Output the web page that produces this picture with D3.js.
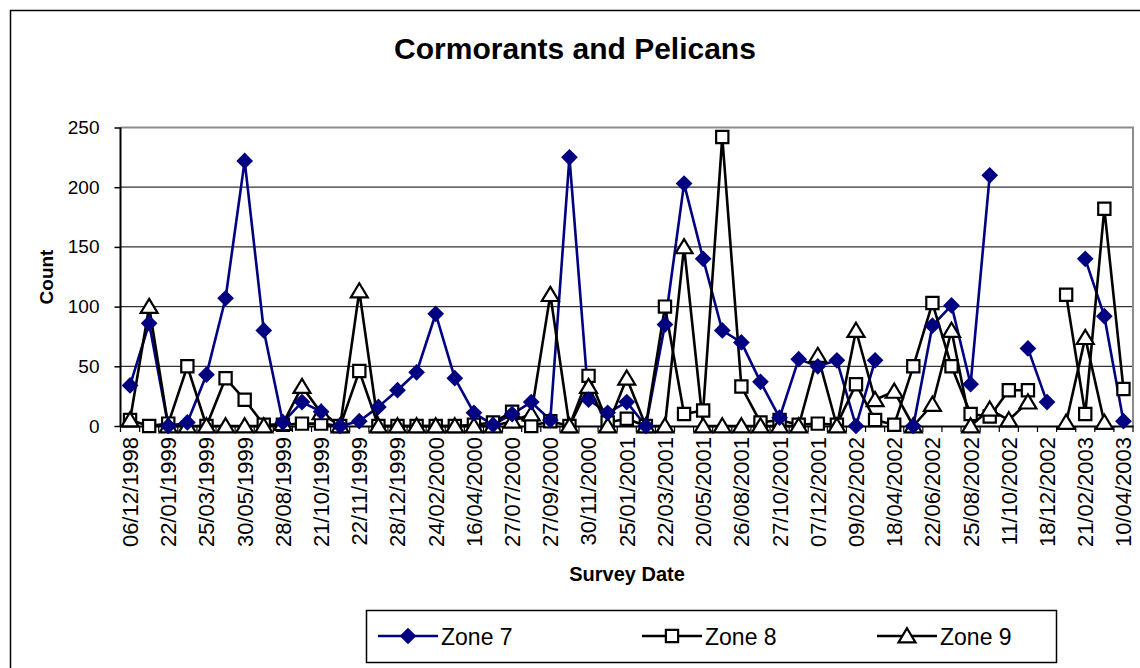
<!DOCTYPE html>
<html>
<head>
<meta charset="utf-8">
<script src="https://cdn.jsdelivr.net/npm/d3@7"></script>
<style>
html,body{margin:0;padding:0;background:#fff;}
svg text{font-family:"Liberation Sans",Arial,sans-serif;}
</style>
</head>
<body>
<svg id="chart" width="1140" height="668"></svg>
<script>
// Survey dates: only every other date is labelled in the original chart
const tickLabels = ["06/12/1998","22/01/1999","25/03/1999","30/05/1999","28/08/1999","21/10/1999","22/11/1999","28/12/1999","24/02/2000","16/04/2000","27/07/2000","27/09/2000","30/11/2000","25/01/2001","22/03/2001","20/05/2001","26/08/2001","27/10/2001","07/12/2001","09/02/2002","18/04/2002","22/06/2002","25/08/2002","11/10/2002","18/12/2002","21/02/2003","10/04/2003"];
const categories = d3.range(53);

const zone7 = [34,86,0,3,43,107,222,80,3,20,12,0,4,16,30,45,94,40,11,1,10,20,5,225,22,11,20,0,85,203,140,80,70,37,7,56,50,55,0,55,null,0,84,101,35,210,null,65,20,null,140,92,4];
const zone8 = [5,0,2,50,0,40,22,1,1,2,2,0,46,0,0,0,0,0,1,3,12,0,4,0,42,3,6,0,100,10,13,242,33,3,5,1,2,1,35,5,1,50,103,50,10,8,30,30,null,110,10,182,31];
const zone9 = [5,100,0,0,0,0,0,0,2,33,11,0,113,0,0,0,0,0,0,0,4,10,110,0,33,0,40,0,0,150,0,0,0,0,0,0,59,0,80,22,29,0,18,80,0,14,5,20,null,3,74,3,null];
const yTicks = [0,50,100,150,200,250];

const seriesNames = ["Zone 7","Zone 8","Zone 9"];
const seriesData = [zone7, zone8, zone9];
const seriesColors = ["#000080","#000000","#000000"];

// Excel-like square diamond
const squareDiamond = {
  draw(ctx, size){
    const r = Math.sqrt(size/2);
    ctx.moveTo(0,-r); ctx.lineTo(r,0); ctx.lineTo(0,r); ctx.lineTo(-r,0); ctx.closePath();
  }
};
const triangleUp = {
  draw(ctx, size){
    const h = Math.sqrt(size);
    ctx.moveTo(0,-h*0.55); ctx.lineTo(h*0.6,h*0.45); ctx.lineTo(-h*0.6,h*0.45); ctx.closePath();
  }
};
const markerSymbols = [
  d3.symbol().type(squareDiamond).size(140),
  d3.symbol().type(d3.symbolSquare).size(150),
  d3.symbol().type(triangleUp).size(200)
];

const svg = d3.select("#chart");
const L = 120.5, R = 1133, T = 127.5, B = 426;

// outer border
svg.append("rect").attr("x",10.5).attr("y",10.5).attr("width",1135).attr("height",665)
  .attr("fill","#fff").attr("stroke","#000").attr("stroke-width",1.5);

const x = d3.scaleBand().domain(categories).range([L, R]).padding(0);
const y = d3.scaleLinear().domain([0,250]).range([B, T]);
const cx = i => x(i) + x.bandwidth()/2;

// gridlines
svg.append("g").selectAll("line").data(yTicks.filter(d=>d>0 && d<250)).join("line")
  .attr("x1",L).attr("x2",R).attr("y1",d=>y(d)).attr("y2",d=>y(d))
  .attr("stroke","#333").attr("stroke-width",1.2);

// plot area border top/right (gray)
svg.append("path").attr("d",`M${L},${T}H${R}V${B}`).attr("fill","none")
  .attr("stroke","#8c8c8c").attr("stroke-width",2);

// y axis
const yAxis = d3.axisLeft(y).tickValues(yTicks).tickSize(6).tickPadding(15);
const gy = svg.append("g").attr("transform",`translate(${L},0)`).call(yAxis);
gy.select(".domain").attr("stroke","#000").attr("stroke-width",2).attr("d",`M0,${T}V${B}`);
gy.selectAll(".tick line").attr("stroke","#000").attr("stroke-width",1.5);
gy.selectAll(".tick text").attr("font-size",19).attr("fill","#000")
  .attr("font-family","Liberation Sans, Arial, sans-serif");

// x axis
const xAxis = d3.axisBottom(x).tickValues([]).tickSizeOuter(0);
const gx = svg.append("g").attr("transform",`translate(0,${B})`).call(xAxis);
gx.select(".domain").attr("stroke","#000").attr("stroke-width",2);
// category boundary tick marks
gx.append("g").selectAll("line").data(d3.range(54)).join("line")
  .attr("x1",i=>L + i*x.step()).attr("x2",i=>L + i*x.step())
  .attr("y1",0).attr("y2",6).attr("stroke","#000").attr("stroke-width",1.2);
// labels
gx.append("g").selectAll("text").data(tickLabels).join("text")
  .attr("transform",(d,k)=>`translate(${cx(k*2)},11) rotate(-90)`)
  .attr("text-anchor","end").attr("dy","0.36em")
  .attr("font-size",22).attr("fill","#000").text(d=>d);

// lines
const line = d3.line().defined(d=>d.v!==null).x(d=>cx(d.i)).y(d=>y(d.v));
seriesData.forEach((arr,s)=>{
  svg.append("path").datum(arr.map((v,i)=>({i,v})))
    .attr("d",line).attr("fill","none").attr("stroke",seriesColors[s])
    .attr("stroke-width",2.6).attr("stroke-linejoin","round");
});

// markers: squares, triangles, then diamonds on top
function drawMarkers(s){
  const pts = seriesData[s].map((v,i)=>({i,v})).filter(d=>d.v!==null);
  svg.append("g").selectAll("path").data(pts).join("path")
    .attr("transform",d=>`translate(${cx(d.i)},${y(d.v)})`)
    .attr("d",markerSymbols[s])
    .attr("fill", s===0 ? "#000080" : "#fff")
    .attr("stroke", s===0 ? "none" : "#000")
    .attr("stroke-width",2.2);
}
drawMarkers(1); drawMarkers(2); drawMarkers(0);

// title
svg.append("text").attr("x",575).attr("y",59).attr("text-anchor","middle")
  .attr("font-size",30).attr("font-weight","bold").text("Cormorants and Pelicans");
// axis titles
svg.append("text").attr("transform","translate(53,277) rotate(-90)").attr("text-anchor","middle")
  .attr("font-size",19).attr("font-weight","bold").text("Count");
svg.append("text").attr("x",627).attr("y",581).attr("text-anchor","middle")
  .attr("font-size",20).attr("font-weight","bold").text("Survey Date");

// legend
const lg = svg.append("g");
lg.append("rect").attr("x",366.5).attr("y",610.5).attr("width",690).attr("height",52)
  .attr("fill","#fff").attr("stroke","#000").attr("stroke-width",1.5);
const legX = [378, 642, 877];
seriesNames.forEach((n,s)=>{
  const g = lg.append("g").attr("transform",`translate(${legX[s]},636)`);
  g.append("line").attr("x1",0).attr("x2",60).attr("y1",0).attr("y2",0)
    .attr("stroke",seriesColors[s]).attr("stroke-width",2.6);
  g.append("path").attr("transform","translate(30,0)").attr("d",markerSymbols[s])
    .attr("fill", s===0 ? "#000080" : "#fff")
    .attr("stroke", s===0 ? "none" : "#000").attr("stroke-width",2.2);
  g.append("text").attr("x",63).attr("y",9).attr("font-size",23).text(n);
});
</script>
</body>
</html>
